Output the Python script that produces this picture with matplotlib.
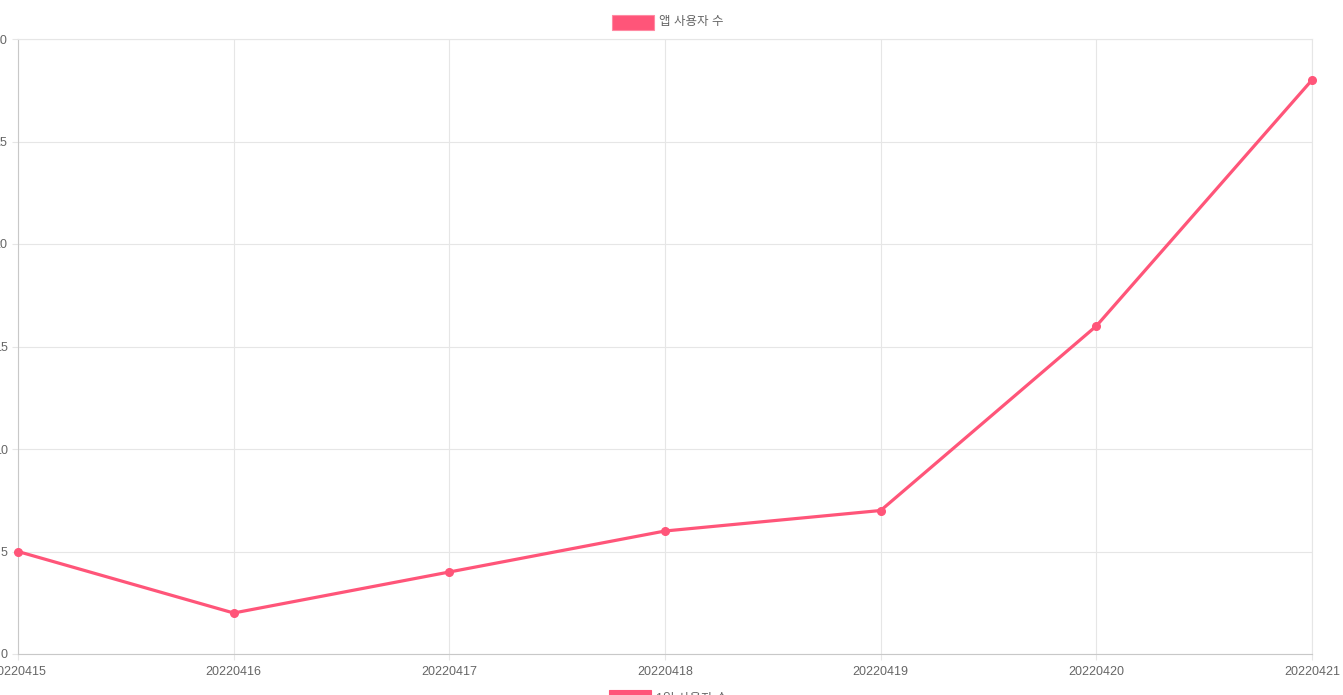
import matplotlib
matplotlib.use("Agg")
import matplotlib.pyplot as plt
from matplotlib.patches import Rectangle

plt.rcParams['font.family'] = ['Liberation Sans', 'Noto Sans CJK KR', 'DejaVu Sans']

dates = ["20220415", "20220416", "20220417", "20220418", "20220419", "20220420", "20220421"]
users = [5, 2, 4, 6, 7, 16, 28]
yticks = [0, 5, 10, 15, 20, 25, 30]
series_label = "앱 사용자 수"
bottom_label = "1일 사용자 수"

color = '#FF5579'
W, H = 1343, 695
fig = plt.figure(figsize=(W / 100, H / 100), dpi=100)
ax = fig.add_axes([18 / W, (H - 654) / H, (1312 - 18) / W, (654 - 39) / H])

x = list(range(len(dates)))
ax.plot(x, users, color=color, lw=2.3, marker='o', ms=5.5, mec=color, mfc=color, clip_on=False, zorder=3)
ax.set_xlim(0, len(dates) - 1)
ax.set_ylim(0, 30)
ax.set_xticks(x)
ax.set_xticklabels(dates)
ax.set_yticks(yticks)
ax.set_yticklabels([str(v) for v in yticks])
ax.grid(True, color='#e6e6e6', lw=0.8)
ax.set_axisbelow(True)
for s in ['top', 'right']:
    ax.spines[s].set_color('#e6e6e6')
    ax.spines[s].set_linewidth(0.8)
for s in ['left', 'bottom']:
    ax.spines[s].set_color('#c8c8c8')
    ax.spines[s].set_linewidth(0.8)
ax.tick_params(axis='both', length=4.5, width=0.8, color='#e6e6e6', labelsize=9, labelcolor='#666666')
ax.tick_params(axis='y', pad=3)
ax.tick_params(axis='x', pad=4)

# top legend
fig.patches.append(Rectangle((612 / W, (H - 30) / H), 42 / W, 15 / H, transform=fig.transFigure,
                             facecolor=color, edgecolor='#ff8aa3', lw=0.8))
fig.text(659 / W, (H - 22) / H, series_label, fontsize=9, color='#666666', va='center', ha='left')

# bottom legend (cut off)
fig.patches.append(Rectangle((609 / W, (H - 700) / H), 42 / W, 10 / H, transform=fig.transFigure,
                             facecolor=color, edgecolor=color, lw=0.8))
fig.text(656 / W, (H - 699) / H, bottom_label, fontsize=9, color='#666666', va='center', ha='left')

fig.savefig('out.png', dpi=100)
